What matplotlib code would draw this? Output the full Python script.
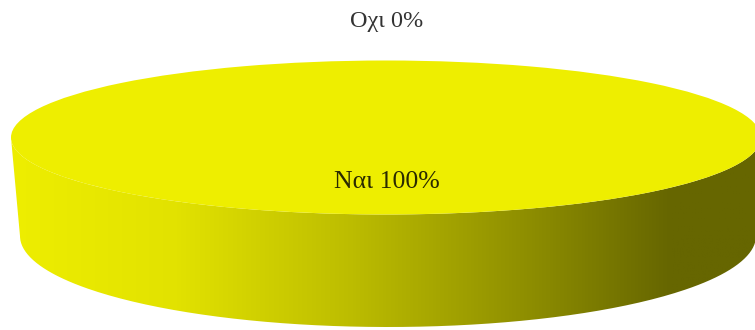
import numpy as np
from matplotlib import pyplot as plt
from matplotlib.colors import LinearSegmentedColormap
from matplotlib.patches import PathPatch
from matplotlib.path import Path
from matplotlib.transforms import Affine2D

plt.rcParams['font.family'] = ['Liberation Serif', 'DejaVu Serif']

categories = ['Ναι', 'Οχι']
values = [100, 0]
pie_color = '#EEEE00'

# top disc and the narrower bottom edge of the cylinder, in pixels
top_c = (386, 137.5)
top_r = (375, 77)
bottom_c = (388, 236)
bottom_r = (368, 91)

# shading along the wall from left to right
wall_stops = [(0.0, '#EEEE00'), (0.22, '#E2E200'), (0.45, '#BDBD00'),
              (0.70, '#8C8C00'), (0.88, '#666600'), (1.0, '#666600')]


def main():
    fig = plt.figure(figsize=(7.55, 3.3), dpi=100)
    ax = fig.add_axes([0, 0, 1, 1])

    # side wall: front half of the top ellipse joined to front half of the bottom one
    t = np.linspace(np.pi, 0, 200)
    upper = np.column_stack([top_c[0] + top_r[0] * np.cos(t), top_c[1] + top_r[1] * np.sin(t)])
    lower = np.column_stack([bottom_c[0] + bottom_r[0] * np.cos(t), bottom_c[1] + bottom_r[1] * np.sin(t)])
    wall = np.vstack([upper, lower[::-1], upper[:1]])

    cmap = LinearSegmentedColormap.from_list('wall', wall_stops)
    grad = np.linspace(0, 1, 256).reshape(1, -1)
    im = ax.imshow(grad, cmap=cmap, extent=(11, 761, 330, 130), aspect='auto')
    clip = PathPatch(Path(wall), transform=ax.transData, facecolor='none', edgecolor='none')
    ax.add_patch(clip)
    im.set_clip_path(clip)

    # top face comes from the pie wedges squashed into an ellipse
    wedges, _ = ax.pie(values, colors=[pie_color, '#FFFFFF'], startangle=90, radius=1, normalize=True)
    squash = Affine2D().scale(top_r[0], top_r[1]).translate(top_c[0], top_c[1])
    for w in wedges:
        w.set_transform(squash + ax.transData)

    ax.set_xlim(0, 755)
    ax.set_ylim(330, 0)
    ax.set_aspect('auto')
    ax.axis('off')

    total = sum(values)
    ax.text(387, 182, '%s %d%%' % (categories[0], round(values[0] * 100 / total)),
            ha='center', va='center', fontsize=18.5, color='#2a2a00')
    ax.text(387, 21, '%s %d%%' % (categories[1], round(values[1] * 100 / total)),
            ha='center', va='center', fontsize=17.5, color='#333333')

    plt.savefig('out.png', dpi=100)


if __name__ == '__main__':
    main()
